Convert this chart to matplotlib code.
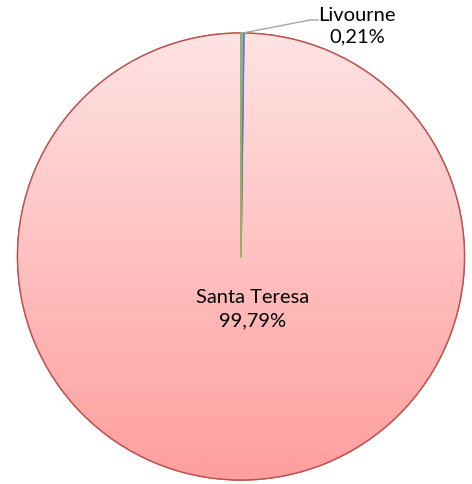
import matplotlib
matplotlib.use("Agg")
import matplotlib.pyplot as plt
import matplotlib.patches as mpatches
import numpy as np
from matplotlib.colors import LinearSegmentedColormap

categories = ["Santa Teresa", "Livourne"]
values = [99.79, 0.21]
labels = ["99,79%", "0,21%"]

W, H = 472, 484
fig = plt.figure(figsize=(4.72, 4.84), dpi=100)
ax = fig.add_axes([0, 0, 1, 1])

def Y(py):
    return H - py

cx, cy, r = 241, Y(256.5), 223.5
wedges, _ = ax.pie(values, center=(cx, cy), radius=r, startangle=90, counterclock=True,
                   colors=["#ffc0c0", "#8fa8d8"],
                   wedgeprops=dict(linewidth=1.0, edgecolor="#c0504d"),
                   frame=True)
ax.set_xlim(0, W)
ax.set_ylim(0, H)
ax.set_aspect("equal")
ax.axis("off")

# gradient fill for the main slice
cmap = LinearSegmentedColormap.from_list("g", ["#ff9e9e", "#ffe3e3"])
grad = np.linspace(0, 1, 256).reshape(-1, 1)
im = ax.imshow(grad, extent=(cx - r, cx + r, cy - r, cy + r), cmap=cmap,
               aspect="auto", origin="lower", zorder=2)
im.set_clip_path(wedges[0])
wedges[0].set_zorder(1)
edge = mpatches.Wedge((cx, cy), r, wedges[0].theta1, wedges[0].theta2,
                      facecolor="none", edgecolor="#c0504d", linewidth=1.0, zorder=3)
ax.add_patch(edge)
wedges[1].set_edgecolor("#4f81bd")
wedges[1].set_zorder(4)
ax.plot([cx - 0.5, cx - 0.5], [cy, cy + r], color="#9bbb59", lw=1.2, zorder=5)

# labels
ax.text(253, Y(309), f"{categories[0]}\n{labels[0]}", ha="center", va="center",
        fontsize=14.5, family="Lato", color="#000000", linespacing=1.45)
ax.text(357, Y(26), f"{categories[1]}\n{labels[1]}", ha="center", va="center",
        fontsize=14.5, family="Lato", color="#000000", linespacing=1.35)
ax.plot([cx + 2, 310, 318], [cy + r, Y(20), Y(20)], color="#a6a6a6", lw=1.0, zorder=6)

fig.savefig("out.png", dpi=100)
